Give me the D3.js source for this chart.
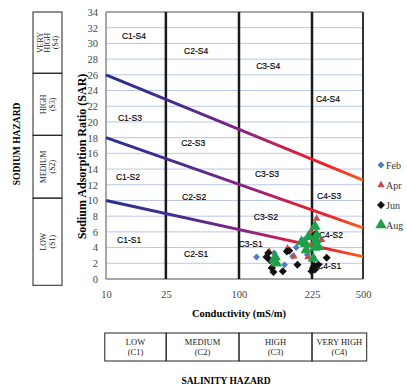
<!DOCTYPE html>
<html>
<head>
<meta charset="utf-8">
<script src="https://cdn.jsdelivr.net/npm/d3@7"></script>
<style>
  body { margin: 0; background: #fff; }
  svg { display: block; }
</style>
</head>
<body>
<div id="chart"></div>
<script>
// Axis ticks
var condTicks = [10, 25, 100, 225, 500];
var sarTicks = d3.range(0, 35, 2);

// Hazard boundary lines (SAR at conductivity 10 and 500)
var boundaryLines = [
    { name: "S1/S2", cond: [10, 500], sar: [10, 2.85] },
    { name: "S2/S3", cond: [10, 500], sar: [18, 6.5] },
    { name: "S3/S4", cond: [10, 500], sar: [26, 12.6] }
];

// Class labels inside the diagram
var zoneNames = ["C1-S4", "C2-S4", "C3-S4", "C4-S4",
                 "C1-S3", "C2-S3", "C3-S3", "C4-S3",
                 "C1-S2", "C2-S2", "C3-S2", "C4-S2",
                 "C1-S1", "C2-S1", "C3-S1", "C4-S1"];
var zoneCond = [17, 56, 150, 311,
                16, 53, 148, 317,
                15.5, 54, 146, 327,
                15.8, 56, 120, 317];
var zoneSar = [31.0, 29.0, 27.1, 22.9,
               20.5, 17.3, 13.4, 10.6,
               13.0, 10.4, 7.9, 5.6,
               5.0, 3.2, 4.5, 1.7];

// Samples: [conductivity (mS/m), SAR]
var febData = [[130, 2.8], [178, 1.8], [192, 2.9], [198, 4.0], [212, 5.0], [217, 3.1], [160, 3.3]];
var aprData = [[152, 3.5], [183, 3.9], [194, 2.9], [157, 1.6], [250, 7.7], [223, 6.0], [277, 5.0], [218, 2.8], [223, 4.3]];
var junData = [[159, 0.9], [175, 1.0], [182, 3.5], [200, 1.8], [224, 1.0], [237, 1.7], [304, 2.7], [259, 1.8],
               [153, 2.4], [147, 2.8], [186, 3.6], [230, 1.4], [150, 3.3], [156, 1.4], [241, 1.2], [245, 5.8]];
var augData = [[162, 2.8], [164, 2.0], [160, 2.5], [207, 4.7], [219, 5.4], [241, 6.7], [250, 5.6], [259, 4.1],
               [232, 2.6], [215, 3.7], [247, 5.0], [214, 4.5], [241, 4.0]];

var seriesNames = ["Feb", "Apr", "Jun", "Aug"];
var seriesData = [febData, aprData, junData, augData];
var seriesColors = ["#4a7fc1", "#c0504d", "#111111", "#1fa048"];
var seriesShapes = ["diamond", "triangle", "diamond", "triangle"];
var seriesSizes = [24, 24, 32, 56];

// Hazard tables
var sodiumClasses = [["VERY", "HIGH", "(S4)"], ["HIGH", "(S3)"], ["MEDIUM", "(S2)"], ["LOW", "(S1)"]];
var sodiumEdges = [34, 26.2, 18.3, 10.3, -0.8];   // row borders in SAR units
var salinityClasses = [["LOW", "(C1)"], ["MEDIUM", "(C2)"], ["HIGH", "(C3)"], ["VERY HIGH", "(C4)"]];
var salinityEdges = [9.7, 25.3, 100, 225, 520];

var W = 407, H = 387;
var margin = { top: 12, left: 106, right: 44, bottom: 108 };
var plotW = W - margin.left - margin.right;
var plotH = H - margin.top - margin.bottom;

var serif = "'Liberation Serif', 'Times New Roman', serif";
var sans = "'Liberation Sans Narrow', 'Liberation Sans', Arial, sans-serif";

var svg = d3.select("#chart").append("svg")
    .attr("width", W)
    .attr("height", H);

// Conductivity axis is not log: categories are spaced unevenly
var x = d3.scaleLinear()
    .domain(condTicks)
    .range([0, 0.233, 0.5175, 0.8016, 1].map(f => margin.left + f * plotW));
var y = d3.scaleLinear()
    .domain([0, 34])
    .range([margin.top + plotH, margin.top]);

// gradient for the boundary lines (blue -> purple -> red -> orange)
var grad = svg.append("defs").append("linearGradient")
    .attr("id", "hazardGrad")
    .attr("gradientUnits", "userSpaceOnUse")
    .attr("x1", x(10)).attr("x2", x(500))
    .attr("y1", 0).attr("y2", 0);
[[0, "#2c2e8e"], [0.3, "#4a2b90"], [0.55, "#8e2182"], [0.72, "#d51f3f"], [0.86, "#ec2027"], [1, "#f6651f"]]
    .forEach(s => grad.append("stop").attr("offset", s[0]).attr("stop-color", s[1]));

// horizontal gridlines
svg.append("g")
    .selectAll("line")
    .data(sarTicks.filter(t => t > 0 && t < 34))
    .join("line")
    .attr("x1", x(10)).attr("x2", x(500))
    .attr("y1", d => y(d)).attr("y2", d => y(d))
    .style("stroke", "#b8c8e6")
    .style("stroke-width", 1);

// plot frame (top and left/bottom in gray)
svg.append("line")
    .attr("x1", x(10)).attr("x2", x(500))
    .attr("y1", y(34)).attr("y2", y(34))
    .style("stroke", "#8a8a8a").style("stroke-width", 1.5);
svg.append("line")
    .attr("x1", x(10)).attr("x2", x(500))
    .attr("y1", y(0)).attr("y2", y(0))
    .style("stroke", "#8a8a8a").style("stroke-width", 1.5);
svg.append("line")
    .attr("x1", x(10)).attr("x2", x(10))
    .attr("y1", y(0)).attr("y2", y(34))
    .style("stroke", "#8a8a8a").style("stroke-width", 1.5);

// vertical class borders
svg.append("g")
    .selectAll("line")
    .data([25, 100, 225, 500])
    .join("line")
    .attr("x1", d => x(d)).attr("x2", d => x(d))
    .attr("y1", y(0)).attr("y2", y(34))
    .style("stroke", d => d == 500 ? "#333" : "#1a1a1a")
    .style("stroke-width", d => d == 500 ? 2 : 2.5);

// boundary lines
var line = d3.line()
    .x(d => x(d[0]))
    .y(d => y(d[1]));
svg.append("g")
    .selectAll("path")
    .data(boundaryLines)
    .join("path")
    .attr("d", d => line(d.cond.map((c, i) => [c, d.sar[i]])))
    .style("fill", "none")
    .style("stroke", "url(#hazardGrad)")
    .style("stroke-width", 3);

// zone labels
svg.append("g")
    .selectAll("text")
    .data(zoneNames)
    .join("text")
    .attr("x", (d, i) => x(zoneCond[i]))
    .attr("y", (d, i) => y(zoneSar[i]))
    .attr("text-anchor", "middle")
    .attr("dominant-baseline", "central")
    .style("font-family", sans)
    .style("font-size", "8.5px")
    .style("fill", "#000")
    .style("stroke", "#000")
    .style("stroke-width", 0.15)
    .text(d => d);

// markers
function symbolFor(shape, size) {
    if (shape == "triangle") return d3.symbol().type(d3.symbolTriangle).size(size)();
    return d3.symbol().type(d3.symbolSquare).size(size)();
}
seriesData.forEach((data, k) => {
    svg.append("g")
        .selectAll("path")
        .data(data)
        .join("path")
        .attr("d", symbolFor(seriesShapes[k], seriesSizes[k]))
        .attr("transform", d => `translate(${x(d[0])},${y(d[1])})` + (seriesShapes[k] == "diamond" ? " rotate(45)" : ""))
        .style("fill", seriesColors[k]);
});

// legend
var legend = svg.append("g")
    .selectAll("g")
    .data(seriesNames)
    .join("g")
    .attr("transform", (d, i) => `translate(381,${165 + i * 20})`);
legend.append("path")
    .attr("d", (d, i) => symbolFor(seriesShapes[i], seriesSizes[i]))
    .attr("transform", (d, i) => seriesShapes[i] == "diamond" ? "rotate(45)" : "")
    .style("fill", (d, i) => seriesColors[i]);
legend.append("text")
    .attr("x", 5)
    .attr("dy", "0.35em")
    .style("font-family", serif)
    .style("font-size", "10px")
    .style("fill", "#333")
    .text(d => d);

// y axis
var yAxis = svg.append("g")
    .attr("transform", `translate(${x(10)},0)`)
    .call(d3.axisLeft(y).tickValues(sarTicks).tickSize(0).tickPadding(8));
yAxis.select(".domain").remove();
yAxis.selectAll("text")
    .style("font-family", serif)
    .style("font-size", "10.5px")
    .style("fill", "#444");

// x axis
var xAxis = svg.append("g")
    .attr("transform", `translate(0,${y(0)})`)
    .call(d3.axisBottom(x).tickValues(condTicks).tickFormat(d3.format("d")).tickSize(0).tickPadding(12));
xAxis.select(".domain").remove();
xAxis.selectAll("text")
    .style("font-family", serif)
    .style("font-size", "10.5px")
    .style("fill", "#444");

// axis titles
svg.append("text")
    .attr("transform", `translate(82,${y(15.6)}) rotate(-90)`)
    .attr("text-anchor", "middle")
    .attr("dominant-baseline", "central")
    .style("font-family", serif)
    .style("font-weight", "bold")
    .style("font-size", "12px")
    .text("Sodium Adsorption Ratio (SAR)");
svg.append("text")
    .attr("x", x(100))
    .attr("y", 313)
    .attr("text-anchor", "middle")
    .attr("dominant-baseline", "central")
    .style("font-family", serif)
    .style("font-weight", "bold")
    .style("font-size", "10.5px")
    .text("Conductivity (mS/m)");

// sodium hazard table (left)
var tableLeft = 33, tableRight = 62;
var sodium = svg.append("g");
sodiumClasses.forEach((lines, i) => {
    var y0 = y(sodiumEdges[i]), y1 = y(sodiumEdges[i + 1]);
    sodium.append("rect")
        .attr("x", tableLeft).attr("y", y0)
        .attr("width", tableRight - tableLeft).attr("height", y1 - y0)
        .style("fill", "none").style("stroke", "#222").style("stroke-width", 1);
    var cx = (tableLeft + tableRight) / 2, cy = (y0 + y1) / 2;
    var gap = lines.length == 3 ? 7.5 : 9;
    var t = sodium.append("text")
        .attr("transform", `translate(${cx},${cy}) rotate(-90)`)
        .attr("text-anchor", "middle")
        .style("font-family", serif)
        .style("font-size", "7.8px")
        .style("fill", "#222");
    lines.forEach((s, j) => {
        t.append("tspan")
            .attr("x", 0)
            .attr("y", (j - (lines.length - 1) / 2) * gap + 2.8)
            .text(s);
    });
});
svg.append("text")
    .attr("transform", `translate(17,${y(17.2)}) rotate(-90)`)
    .attr("text-anchor", "middle")
    .attr("dominant-baseline", "central")
    .style("font-family", serif)
    .style("font-weight", "bold")
    .style("font-size", "9.5px")
    .text("SODIUM  HAZARD");

// salinity hazard table (bottom)
var tableTop = 333, tableBottom = 361;
var salinity = svg.append("g");
salinityClasses.forEach((lines, i) => {
    var x0 = x(salinityEdges[i]), x1 = x(salinityEdges[i + 1]);
    salinity.append("rect")
        .attr("x", x0).attr("y", tableTop)
        .attr("width", x1 - x0).attr("height", tableBottom - tableTop)
        .style("fill", "none").style("stroke", "#222").style("stroke-width", 1);
    var t = salinity.append("text")
        .attr("text-anchor", "middle")
        .style("font-family", serif)
        .style("font-size", "8.5px")
        .style("fill", "#222");
    lines.forEach((s, j) => {
        t.append("tspan")
            .attr("x", (x0 + x1) / 2)
            .attr("y", 345 + j * 10)
            .text(s);
    });
});
svg.append("text")
    .attr("x", x(100) - 13)
    .attr("y", 381)
    .attr("text-anchor", "middle")
    .attr("dominant-baseline", "central")
    .style("font-family", serif)
    .style("font-weight", "bold")
    .style("font-size", "9.5px")
    .text("SALINITY  HAZARD");
</script>
</body>
</html>
